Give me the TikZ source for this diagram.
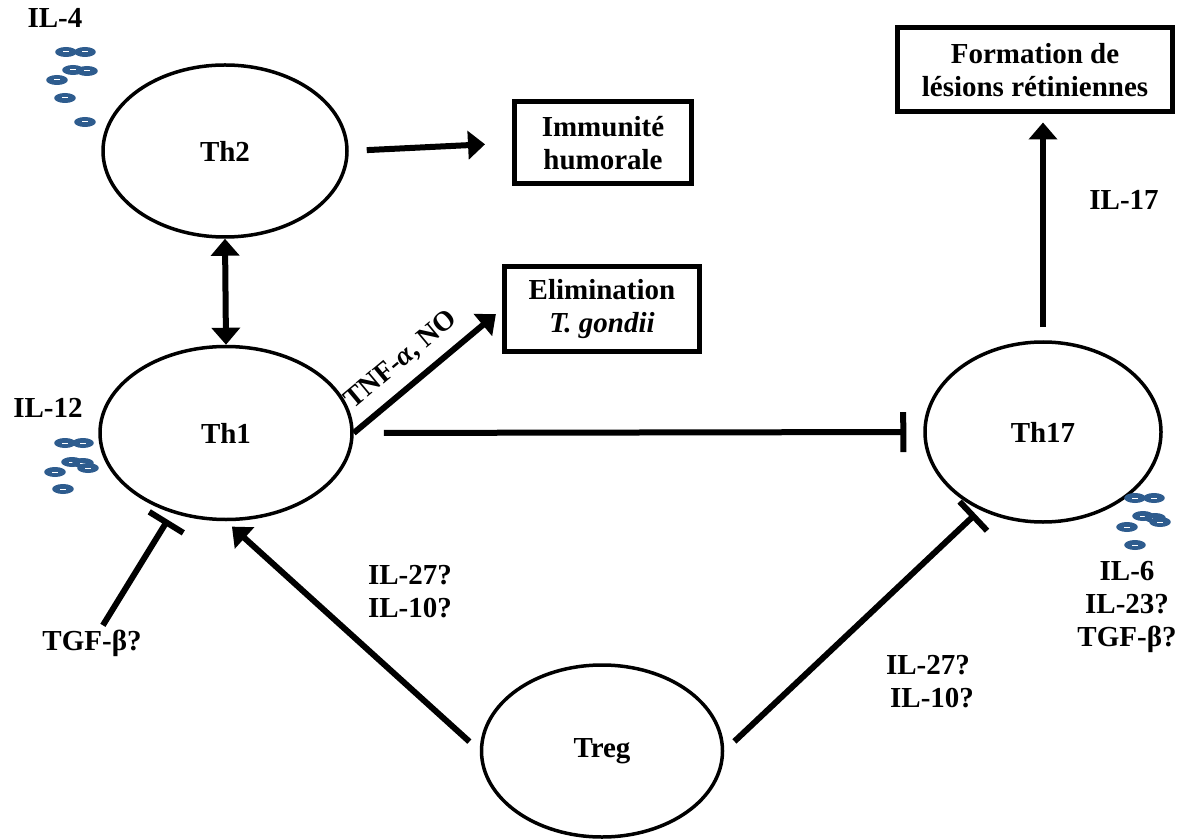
\documentclass[tikz,border=0pt]{standalone}
\usepackage{fontspec}
\setmainfont{Liberation Serif}
\usetikzlibrary{shapes.geometric,arrows.meta}
\definecolor{cytoblue}{RGB}{46,92,142}
\begin{document}
\begin{tikzpicture}[x=0.5pt,y=-0.5pt,
    font=\fontsize{14.5}{16.5}\selectfont\bfseries,
    cell/.style={draw,ellipse,line width=1.75pt,inner sep=0pt},
    result/.style={draw,rectangle,line width=2.5pt,inner sep=0pt,align=center},
    cytotext/.style={align=center,inner sep=2pt},
    act/.style={line width=3pt,-{Triangle[length=8.5pt,width=14pt]}},
    inhib/.style={line width=3pt,-{Bar[width=20pt]}}]
    \useasboundingbox (0,0) rectangle (1187,839);
    % cellules
    \node[cell,minimum width=122pt,minimum height=86pt] (th2) at (225,151) {Th2};
    \node[cell,minimum width=126pt,minimum height=86.5pt] (th1) at (226,433) {Th1};
    \node[cell,minimum width=118pt,minimum height=90pt] (th17) at (1043,432) {Th17};
    \node[cell,minimum width=120.5pt,minimum height=86pt] (treg) at (602,751) {Treg};
    % effets
    \node[result,minimum width=88.5pt,minimum height=41pt] (imm) at (603,143) {Immunité\\humorale};
    \node[result,minimum width=97.5pt,minimum height=42pt] (elim) at (602,309) {Elimination\\\textit{T. gondii}};
    \node[result,minimum width=137.5pt,minimum height=42pt] (form) at (1035,70) {Formation de\\lésions rétiniennes};
    % cytokines
    \node[cytotext] (il4) at (55,18) {IL-4};
    \node[cytotext] (il12) at (48,408) {IL-12};
    \node[cytotext] (il17) at (1124,200) {IL-17};
    \node[cytotext] (tgf) at (92,643) {TGF-β?};
    \node[cytotext] (il27a) at (410,592) {IL-27?\\IL-10?};
    \node[cytotext] (il27b) at (928,682) {IL-27?\\\;IL-10?};
    \node[cytotext] (il6) at (1127,607) {IL-6\\IL-23?\\TGF-β?};
    \foreach \x/\y in {66/52,85/52,73/70,87/71,57/80,65/98,85/122,
                       65/443,83/443,72/462,83/463,88/468,55/472,63/489,
                       1135/498,1154/498,1143/516,1155/518,1160/522,1127/527,1135/545}
      {
      \fill[cytoblue] (\x,\y) ellipse (5.4pt and 2.5pt);
      \draw[white,line width=0.5pt] (\x,\y) ++(-1.3pt,0) -- ++(2.6pt,0);
      }
    % connexions
    \draw[act,shorten <=9pt,shorten >=13.5pt] (th2.east) -- (imm.west);
    \draw[act,{Triangle[length=8.5pt,width=14pt]}-{Triangle[length=8.5pt,width=14pt]}] (th2.south) -- (th1.north);
    \draw[act,shorten >=4pt] (th1.east) -- (elim.west)
        node[pos=0.43,above=2pt,sloped,font=\fontsize{14}{16}\selectfont\bfseries] {TNF-\textit{α}, NO};
    \draw[inhib,shorten <=15pt,shorten >=8.5pt] (th1.east) -- (th17.west);
    \draw[act,shorten <=6.5pt,shorten >=4pt] (th17.north) -- (th17.north |- form.south);
    \draw[inhib,shorten >=4pt] (tgf) -- (th1.236);
    \draw[act,shorten <=7pt,shorten >=4pt] (treg.west) -- (th1.south);
    \draw[inhib,shorten <=7pt,shorten >=3pt] (treg.east) -- (th17.231);
\end{tikzpicture}
\end{document}
